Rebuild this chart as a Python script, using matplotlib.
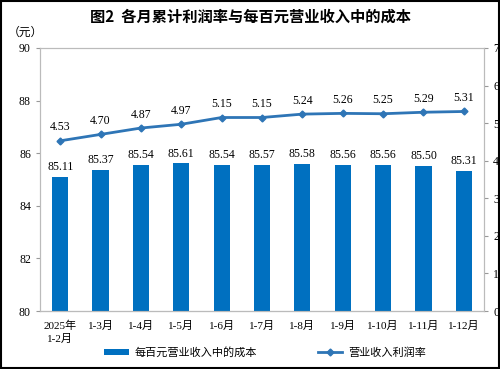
import matplotlib.pyplot as plt
import numpy as np

plt.rcParams['font.family'] = ['Liberation Serif', 'Noto Sans CJK SC']

months = ["2025年\n1-2月", "1-3月", "1-4月", "1-5月", "1-6月", "1-7月",
          "1-8月", "1-9月", "1-10月", "1-11月", "1-12月"]
cost = [85.11, 85.37, 85.54, 85.61, 85.54, 85.57, 85.58, 85.56, 85.56, 85.50, 85.31]
margin = [4.53, 4.70, 4.87, 4.97, 5.15, 5.15, 5.24, 5.26, 5.25, 5.29, 5.31]

bar_color = "#0070C0"
line_color = "#2E75B6"
x = np.arange(len(months))

fig = plt.figure(figsize=(5.0, 3.69), dpi=100)
ax = fig.add_axes([0.08, 0.157, 0.888, 0.713])
ax2 = ax.twinx()

ax.bar(x, cost, width=0.4, color=bar_color, zorder=2, label="每百元营业收入中的成本")
for xi, v in zip(x, cost):
    ax.text(xi, v + 0.15, f"{v:.2f}", ha="center", va="bottom", fontsize=8.5)

ax2.plot(x, margin, color=line_color, lw=2, marker="D", ms=3.5, label="营业收入利润率")
for xi, v in zip(x, margin):
    ax2.text(xi, v + 0.2, f"{v:.2f}", ha="center", va="bottom", fontsize=8.5)

ax.set_xlim(-0.5, len(months) - 0.5)
ax.set_ylim(80, 90)
ax.set_yticks(range(80, 91, 2))
ax2.set_ylim(0, 7)
ax2.set_yticks(range(0, 8))
ax.set_xticks(x)
ax.set_xticklabels(months, fontsize=8, linespacing=1.3)
ax.tick_params(axis="x", length=0, pad=7)
ax.tick_params(axis="y", labelsize=8.5, length=3, color="#999999")
ax2.tick_params(axis="y", labelsize=8.5, length=3, color="#999999")

for a in (ax, ax2):
    for s in a.spines.values():
        s.set_color("#bbbbbb")
        s.set_linewidth(0.8)
ax.spines["bottom"].set_color("#888888")

fig.text(0.5, 0.955, "图2  各月累计利润率与每百元营业收入中的成本", ha="center", va="center",
         fontsize=11, fontweight="bold", family=["Noto Sans CJK SC"])
fig.text(0.05, 0.91, "（元）", ha="center", va="center", fontsize=8.5)
fig.text(0.98, 0.91, "（%）", ha="left", va="center", fontsize=8.5)

h1, l1 = ax.get_legend_handles_labels()
h2, l2 = ax2.get_legend_handles_labels()
fig.legend(h1 + h2, l1 + l2, loc="center", bbox_to_anchor=(0.53, 0.045), ncol=2,
           frameon=False, fontsize=8, handlelength=2.2, handletextpad=0.5,
           columnspacing=5.5, handleheight=0.5)

fig.patches.append(plt.Rectangle((0.002, 0.003), 0.996, 0.994, transform=fig.transFigure,
                                 fill=False, edgecolor="black", lw=1.5))

fig.savefig("out.png", dpi=100)
